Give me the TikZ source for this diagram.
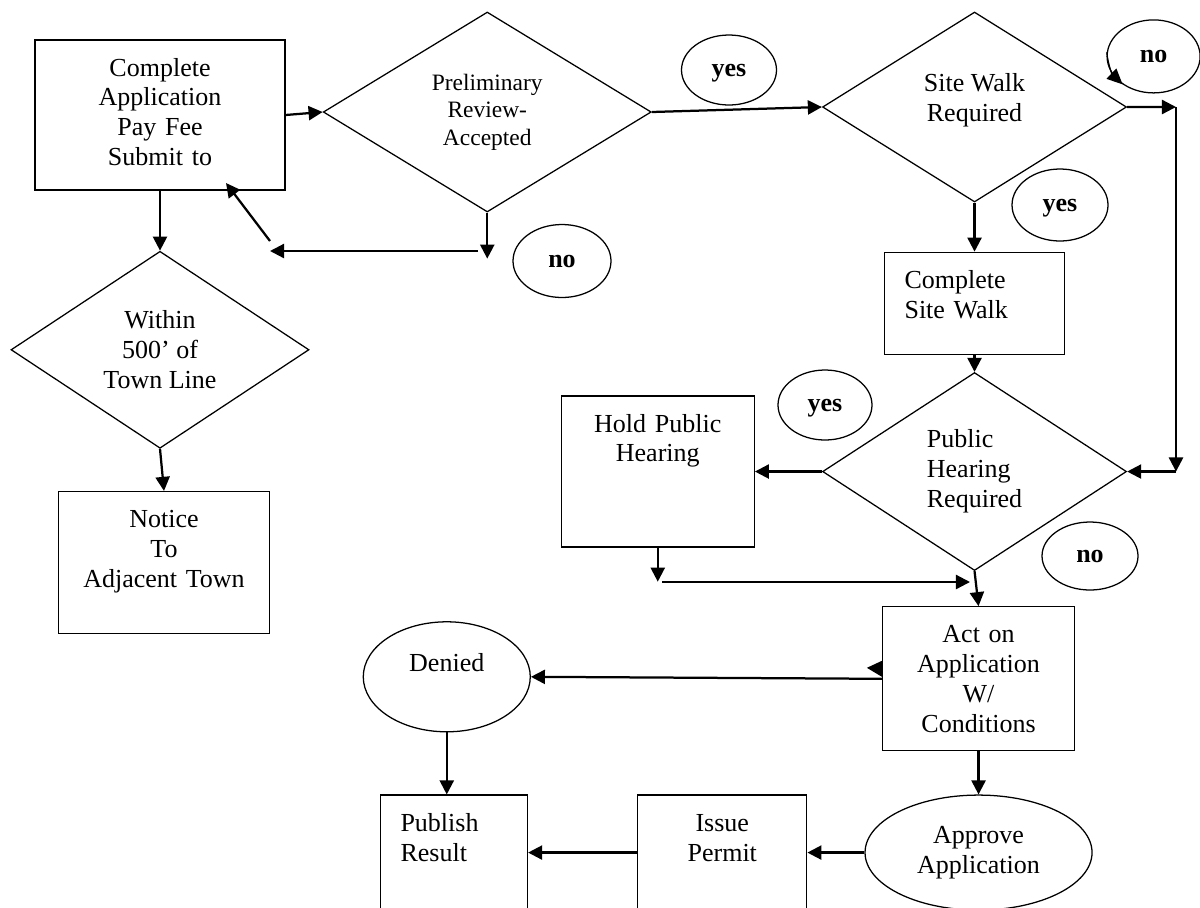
\documentclass[tikz,border=0pt]{standalone}
\usepackage{fontspec}
\setmainfont{Liberation Serif}
\usetikzlibrary{arrows.meta,positioning,shapes.geometric,calc}
\tikzset{
  procbox/.style={
    rectangle, draw=black, line width=0.9pt,
    text width=#1, align=center,
    inner xsep=0.5cm, inner ysep=0.45cm, text height=0.45cm,
    font=\fontsize{18.5}{21.3}\selectfont
  },
  procbox/.default=3.5cm,
  decision/.style={
    diamond, draw=black, line width=0.9pt, shape aspect=1.5,
    inner sep=1pt, align=center,
    font=\fontsize{18.5}{21.3}\selectfont
  },
  answer/.style={
    ellipse, draw=black, line width=0.9pt,
    minimum width=2.4cm, minimum height=1.75cm, inner sep=0pt,
    text height=0.4cm, text depth=0.1cm,
    font=\fontsize{18.5}{21.3}\selectfont\bfseries
  },
  outcome/.style={
    ellipse, draw=black, line width=0.9pt, inner sep=0pt, align=center,
    font=\fontsize{18.5}{21.3}\selectfont
  },
  flowarrow/.style={
    -{Triangle[length=10pt,width=10pt]}, line width=1.6pt
  },
}
\begin{document}
\begin{tikzpicture}
\useasboundingbox (0,0) rectangle (30,-22.675);

% application and first review
\node[procbox=5.25cm, text depth=2.4cm] (apply) at (4.0,-2.875)
  {Complete\\Application\\Pay Fee\\Submit to};
\node[decision, minimum width=8.2cm, minimum height=5cm,
  font=\fontsize{16.7}{19.5}\selectfont,
  right=0.925cm of apply, yshift=0.075cm] (prelim) {Preliminary\\Review-\\Accepted};
\node[decision, minimum width=7.6cm, minimum height=4.75cm,
  right=4.25cm of prelim, yshift=0.125cm] (sitewalk) {Site Walk\\Required\\[-0.28cm]};

% town line branch
\node[decision, minimum width=7.45cm, minimum height=4.925cm,
  below=1.5cm of apply] (within) {Within\\500’ of\\Town Line};
\node[procbox=4.275cm, text depth=2.2cm, below=1.05cm of within, xshift=0.1cm] (notice)
  {Notice\\To\\Adjacent Town};

% site walk and hearing
\node[procbox=3.5cm, text depth=1.2cm, align=left, below=1.225cm of sitewalk] (walkdone)
  {Complete\\Site Walk};
\node[decision, minimum width=7.6cm, minimum height=4.95cm, align=left,
  below=0.425cm of walkdone] (hearing) {Public\\Hearing\\Required};
\node[procbox=3.825cm, text depth=2.425cm, left=1.675cm of hearing] (hold)
  {Hold Public\\Hearing};

% decision and results
\node[procbox=3.8cm, text depth=2.25cm, below=0.875cm of hearing, xshift=0.1cm] (act)
  {Act on\\Application\\W/\\Conditions};
\node[outcome, minimum width=5.675cm, minimum height=2.875cm,
  below=1.075cm of act] (approve) {Approve\\Application};
\node[procbox=3.225cm, text depth=2.4cm, anchor=north east]
  (issue) at ([xshift=-1.425cm]approve.west |- approve.north) {Issue\\Permit};
\node[procbox=2.675cm, text depth=2.4cm, align=left, left=2.725cm of issue] (publish)
  {Publish\\Result};
\node[outcome, minimum width=4.175cm, minimum height=2.75cm,
  text height=0.45cm, text depth=0.72cm,
  left=8.775cm of act, yshift=0.05cm] (denied) {Denied};

% answer bubbles
\node[answer, minimum width=2.375cm] (yesprelim) at (18.225,-1.75) {yes};
\node[answer, minimum width=2.45cm, minimum height=1.825cm] (noprelim) at (14.05,-6.525) {no};
\node[answer, minimum width=2.325cm, minimum height=1.825cm] (nowalk) at (28.84,-1.41) {no};
\node[answer, minimum height=1.8cm] (yeswalk) at (26.5,-5.125) {yes};
\node[answer, minimum width=2.35cm] (yeshear) at (20.625,-10.125) {yes};
\node[answer, minimum width=2.4cm, minimum height=1.7cm] (nohear) at (27.25,-13.9) {no};
\draw[line width=0.9pt, -{Triangle[length=11pt,width=10pt]}] (nowalk.175) to[bend right=20] (nowalk.222);

% free ends
\coordinate (rejdown) at ([yshift=-1.15cm]prelim.south);
\coordinate (rejstart) at (11.95,-6.275);
\coordinate (rejend) at (6.75,-6.275);
\coordinate (retstart) at (6.75,-6.025);
\coordinate (retend) at (5.65,-4.575);
\coordinate (skiptop) at (29.4,-2.675);
\coordinate (skipbot) at (skiptop |- hearing.east);
\coordinate (holddown) at ([yshift=-0.85cm]hold.south);
\coordinate (joinstart) at (16.55,-14.55);
\coordinate (joinend) at (24.25,-14.55);

% connectors
\draw[flowarrow] (apply.east) -- (prelim.west);
\draw[flowarrow] (prelim.south) -- (rejdown);
\draw[flowarrow] (rejstart) -- (rejend);
\draw[flowarrow] (retstart) -- (retend);
\draw[flowarrow] (apply.south) -- (within.north);
\draw[flowarrow] (within.south) -- (notice.north);
\draw[flowarrow] (prelim.east) -- (sitewalk.west);
\draw[flowarrow] (sitewalk.east) -- (skiptop);
\draw[flowarrow] (skiptop) -- (skipbot);
\draw[flowarrow] (skipbot) -- (hearing.east);
\draw[flowarrow] (sitewalk.south) -- (walkdone.north);
\draw[flowarrow] (walkdone.south) -- (hearing.north);
\draw[flowarrow] (hearing.west) -- (hold.east);
\draw[flowarrow] (hold.south) -- (holddown);
\draw[flowarrow] (joinstart) -- (joinend);
\draw[flowarrow] (hearing.south) -- (act.north);
\draw[flowarrow] (act.west) -- (denied.east);
\fill ([yshift=0.05cm]act.west) -- ([yshift=0.45cm]act.west)
  -- ([xshift=-0.375cm,yshift=0.275cm]act.west) -- cycle;
\draw[flowarrow] (act.south) -- (approve.north);
\draw[flowarrow] (approve.west) -- (approve.west -| issue.east);
\draw[flowarrow] (issue.west |- approve.west) -- (publish.east |- approve.west);
\draw[flowarrow] (denied.south) -- (denied.south |- publish.north);
\end{tikzpicture}
\end{document}
